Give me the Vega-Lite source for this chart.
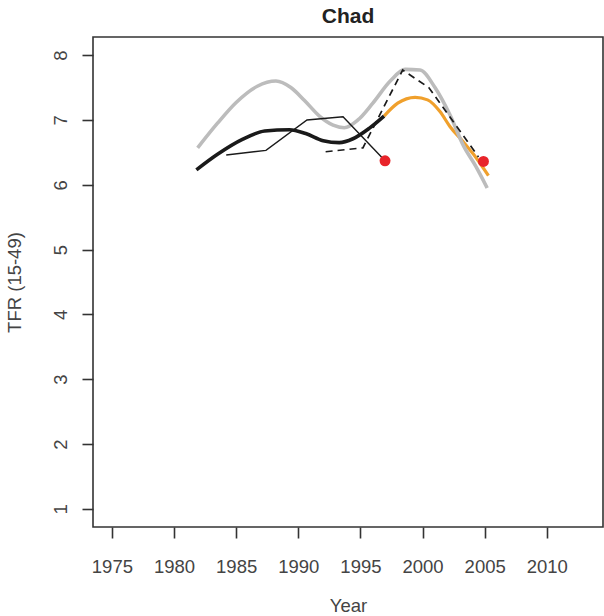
{
  "$schema": "https://vega.github.io/schema/vega-lite/v6.json",
  "width": 510,
  "height": 490,
  "autosize": {"type": "none"},
  "padding": {"left": 93, "top": 37, "right": 1, "bottom": 89},
  "background": "white",
  "title": {"text": "Chad", "font": "Liberation Sans", "fontSize": 21, "fontWeight": "bold", "color": "#222", "anchor": "middle", "offset": 10},
  "config": {
    "view": {"stroke": "#333", "strokeWidth": 1.6},
    "axis": {
      "domain": false, "grid": false, "tickColor": "#333", "tickWidth": 1.6, "tickSize": 11,
      "labelFont": "Liberation Sans", "labelFontSize": 18.5, "labelColor": "#444",
      "titleFont": "Liberation Sans", "titleFontSize": 18.5, "titleFontWeight": "normal", "titleColor": "#444"
    }
  },
  "datasets": {
    "gray": [
      {"year": 1981.9, "tfr": 6.57}, {"year": 1983.5, "tfr": 6.95}, {"year": 1985.0, "tfr": 7.27},
      {"year": 1986.7, "tfr": 7.52}, {"year": 1988.2, "tfr": 7.6}, {"year": 1989.4, "tfr": 7.5},
      {"year": 1990.5, "tfr": 7.3}, {"year": 1991.7, "tfr": 7.06}, {"year": 1992.8, "tfr": 6.92},
      {"year": 1993.7, "tfr": 6.88}, {"year": 1994.8, "tfr": 7.0}, {"year": 1996.0, "tfr": 7.26},
      {"year": 1997.4, "tfr": 7.6}, {"year": 1998.6, "tfr": 7.78}, {"year": 1999.8, "tfr": 7.77},
      {"year": 2001.0, "tfr": 7.5}, {"year": 2002.2, "tfr": 7.08}, {"year": 2003.3, "tfr": 6.6},
      {"year": 2004.3, "tfr": 6.28}, {"year": 2005.2, "tfr": 5.95}
    ],
    "black": [
      {"year": 1981.8, "tfr": 6.23}, {"year": 1983.5, "tfr": 6.47}, {"year": 1985.5, "tfr": 6.7},
      {"year": 1987.3, "tfr": 6.83}, {"year": 1989.3, "tfr": 6.85}, {"year": 1990.6, "tfr": 6.79},
      {"year": 1992.0, "tfr": 6.68}, {"year": 1993.3, "tfr": 6.65}, {"year": 1994.4, "tfr": 6.71},
      {"year": 1995.7, "tfr": 6.87}, {"year": 1996.9, "tfr": 7.06}
    ],
    "orange": [
      {"year": 1996.9, "tfr": 7.06}, {"year": 1998.0, "tfr": 7.26}, {"year": 1999.4, "tfr": 7.35},
      {"year": 2000.4, "tfr": 7.31}, {"year": 2001.4, "tfr": 7.13}, {"year": 2002.2, "tfr": 6.9},
      {"year": 2003.2, "tfr": 6.68}, {"year": 2004.1, "tfr": 6.47}, {"year": 2005.3, "tfr": 6.14}
    ],
    "thin": [
      {"year": 1984.2, "tfr": 6.46}, {"year": 1987.4, "tfr": 6.53}, {"year": 1990.7, "tfr": 7.0},
      {"year": 1993.6, "tfr": 7.05}, {"year": 1996.98, "tfr": 6.37}
    ],
    "dashed": [
      {"year": 1992.2, "tfr": 6.51}, {"year": 1995.2, "tfr": 6.57}, {"year": 1998.4, "tfr": 7.77},
      {"year": 2000.5, "tfr": 7.5}, {"year": 2004.5, "tfr": 6.43}
    ],
    "red": [
      {"year": 1996.98, "tfr": 6.37}, {"year": 2004.9, "tfr": 6.36}
    ]
  },
  "encoding": {
    "x": {
      "field": "year", "type": "quantitative",
      "scale": {"domain": [1973.48, 2014.52], "nice": false, "zero": false},
      "axis": {"values": [1975, 1980, 1985, 1990, 1995, 2000, 2005, 2010], "format": "d", "title": "Year", "labelPadding": 19, "titlePadding": 21}
    },
    "y": {
      "field": "tfr", "type": "quantitative",
      "scale": {"domain": [0.72, 8.28], "nice": false, "zero": false},
      "axis": {"values": [1, 2, 3, 4, 5, 6, 7, 8], "title": "TFR (15-49)", "labelAngle": -90, "labelAlign": "center", "labelBaseline": "bottom", "labelPadding": 12, "titlePadding": 27}
    }
  },
  "layer": [
    {"data": {"name": "orange"}, "mark": {"type": "line", "interpolate": "monotone", "color": "#f0a02c", "strokeWidth": 3.2}},
    {"data": {"name": "black"}, "mark": {"type": "line", "interpolate": "monotone", "color": "#1a1a1a", "strokeWidth": 3.6}},
    {"data": {"name": "gray"}, "mark": {"type": "line", "interpolate": "monotone", "color": "#bcbcbc", "strokeWidth": 3.6}},
    {"data": {"name": "thin"}, "mark": {"type": "line", "color": "#1a1a1a", "strokeWidth": 1.4}},
    {"data": {"name": "dashed"}, "mark": {"type": "line", "color": "#1a1a1a", "strokeWidth": 1.7, "strokeDash": [7, 5]}},
    {"data": {"name": "red"}, "mark": {"type": "circle", "color": "#e8242a", "opacity": 1, "size": 120}}
  ]
}
